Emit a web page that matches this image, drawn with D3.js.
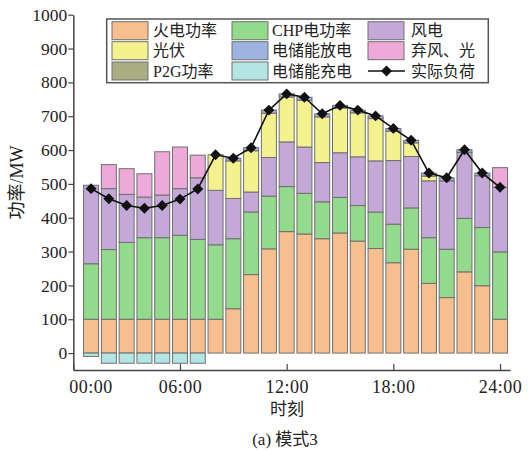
<!DOCTYPE html>
<html><head><meta charset="utf-8">
<script src="https://cdn.jsdelivr.net/npm/d3@7"></script>
<style>body{margin:0;background:#fff} text{font-family:"Liberation Serif","Noto Sans CJK SC",serif;}</style>
</head><body>
<svg id="c" width="530" height="452"></svg>
<script>
const hours = [1,2,3,4,5,6,7,8,9,10,11,12,13,14,15,16,17,18,19,20,21,22,23,24];
const thermal = [100,100,100,100,100,100,100,100,131,232,308,359,352,338,355,331,309,267,307,206,164,240,199,100];
const chp = [164,206,227,241,241,248,236,220,207,185,156,133,120,109,105,105,108,114,122,135,143,158,172,199];
const wind = [232,180,142,120,126,138,182,161,119,59,114,132,137,116,132,144,151,188,152,168,202,195,153,191];
const pv = [0,0,0,0,0,0,0,105,111,122,131,133,138,135,132,130,125,87,40,14,0,0,0,0];
const discharge = [0,0,0,0,0,0,0,0,8,9,9,9,9,9,8,8,8,8,8,9,9,8,8,0];
const curtail = [0,71,76,69,128,123,67,0,0,0,0,0,0,0,0,0,0,0,0,0,0,0,0,58];
const p2g = [0,0,0,0,0,0,0,0,0,0,0,0,0,0,0,0,0,0,0,0,0,0,0,0];
const charge = [-10,-30,-30,-30,-30,-30,-30,0,0,0,0,0,0,0,0,0,0,0,0,0,0,0,0,0];
const load = [486,456,436,428,436,455,485,586,576,607,718,766,756,707,732,718,701,664,629,532,518,601,532,490];
const xTicks = [0,6,12,18,24];
const xTickLabels = ["00:00","06:00","12:00","18:00","24:00"];
const yTicks = [0,100,200,300,400,500,600,700,800,900,1000];

const series = [
  {key:"thermal", name:"火电功率", vals:thermal, color:"#F6BF8D"},
  {key:"chp", name:"CHP电功率", vals:chp, color:"#94DA8C"},
  {key:"wind", name:"风电", vals:wind, color:"#C3A8D8"},
  {key:"pv", name:"光伏", vals:pv, color:"#F3F28F"},
  {key:"discharge", name:"电储能放电", vals:discharge, color:"#9FB3E0"},
  {key:"curtail", name:"弃风、光", vals:curtail, color:"#ECA9D9"},
  {key:"p2g", name:"P2G功率", vals:p2g, color:"#A9AE82"},
  {key:"charge", name:"电储能充电", vals:charge, color:"#B2E5E4"}
];

const table = hours.map((h,i)=>{
  const o={hour:h};
  series.forEach(s=>o[s.key]=s.vals[i]);
  return o;
});

const svg = d3.select("#c");
const FONT = '"Liberation Serif","Noto Sans CJK SC",serif';
const x = d3.scaleLinear().domain([0,24.56]).range([73.3,510]);
const y = d3.scaleLinear().domain([-50,1000]).range([370,14.7]);
const bw = 15;

const stack = d3.stack().keys(series.map(s=>s.key)).offset(d3.stackOffsetDiverging);
const layers = stack(table);

const g = svg.append("g");
layers.forEach((layer,li)=>{
  const s = series[li];
  g.selectAll(null).data(layer.filter(d=>d[1]!==d[0])).enter().append("rect")
    .attr("x", d=>x(d.data.hour)-bw/2)
    .attr("width", bw)
    .attr("y", d=>y(Math.max(d[0],d[1])))
    .attr("height", d=>Math.abs(y(d[0])-y(d[1])))
    .attr("fill", s.color)
    .attr("stroke", "#707070")
    .attr("stroke-width", 1);
});

// axes
const yAxis = d3.axisLeft(y).tickValues(yTicks).tickFormat(d3.format("d")).tickSize(5).tickSizeOuter(0);
const ya = svg.append("g").attr("transform","translate(73.3,0)").call(yAxis);
ya.attr("font-family",null);
ya.select(".domain").attr("stroke","#444").attr("stroke-width",1.5);
ya.selectAll(".tick line").attr("stroke","#444").attr("stroke-width",1.2);
ya.selectAll(".tick text").style("font-family",FONT).style("font-size","17.5px").attr("fill","#222").attr("x",-6);

const xAxis = d3.axisBottom(x).tickValues(xTicks).tickFormat((d,i)=>xTickLabels[i]).tickSize(-6).tickSizeOuter(0);
const xa = svg.append("g").attr("transform","translate(0,370)").call(xAxis);
xa.attr("font-family",null);
xa.select(".domain").attr("stroke","#444").attr("stroke-width",1.5);
xa.selectAll(".tick line").attr("stroke","#444").attr("stroke-width",1.2);
xa.selectAll(".tick text").style("font-family",FONT).style("font-size","18px").style("letter-spacing","0.5px").attr("fill","#222").attr("y",10);
xa.selectAll(".tick").filter(d=>d===0).select("text").attr("x", x(1)-x(0)-0.5);

// load line
const line = d3.line().x((d,i)=>x(hours[i])).y(d=>y(d));
svg.append("path").datum(load).attr("d",line).attr("fill","none").attr("stroke","#111").attr("stroke-width",1.6);
const diamond = d3.symbol().type(d3.symbolSquare).size(60);
svg.selectAll(".pt").data(load).enter().append("path")
  .attr("transform",(d,i)=>`translate(${x(hours[i])},${y(d)}) rotate(45)`)
  .attr("d",diamond).attr("fill","#111");

// legend
const lg = svg.append("g");
lg.append("rect").attr("x",106.7).attr("y",19).attr("width",381.6).attr("height",63.7)
  .attr("fill","#fff").attr("stroke","#555").attr("stroke-width",1.5);
const colX = [112,232,368];
const textX = [153,272,411];
const rowY = [30.7,50.7,71];
const order = ["thermal","chp","wind","pv","discharge","curtail","p2g","charge"];
order.forEach((k,i)=>{
  const s = series.find(d=>d.key===k);
  const c=i%3, r=Math.floor(i/3);
  lg.append("rect").attr("x",colX[c]).attr("y",rowY[r]-9).attr("width",36).attr("height",18)
    .attr("fill",s.color).attr("stroke","#707070").attr("stroke-width",1);
  lg.append("text").attr("x",textX[c]).attr("y",rowY[r]).attr("dy","0.36em")
    .style("font-family",FONT).style("font-size","16px").attr("fill","#222").text(s.name);
});
lg.append("line").attr("x1",368).attr("x2",405).attr("y1",rowY[2]).attr("y2",rowY[2]).attr("stroke","#111").attr("stroke-width",1.6);
lg.append("path").attr("transform",`translate(386.5,${rowY[2]}) rotate(45)`).attr("d",diamond).attr("fill","#111");
lg.append("text").attr("x",textX[2]).attr("y",rowY[2]).attr("dy","0.36em")
  .style("font-family",FONT).style("font-size","16px").attr("fill","#222").text("实际负荷");

// titles
svg.append("text").attr("transform","translate(17,182.5) rotate(-90)").attr("text-anchor","middle").attr("dy","0.35em")
  .style("font-family",FONT).style("font-size","18px").attr("fill","#222").text("功率/MW");
svg.append("text").attr("x",287).attr("y",409).attr("text-anchor","middle").attr("dy","0.35em")
  .style("font-family",FONT).style("font-size","17px").attr("fill","#222").text("时刻");
svg.append("text").attr("x",285).attr("y",439).attr("text-anchor","middle").attr("dy","0.35em")
  .style("font-family",FONT).style("font-size","17px").attr("fill","#222").text("(a) 模式3");
</script>
</body></html>
